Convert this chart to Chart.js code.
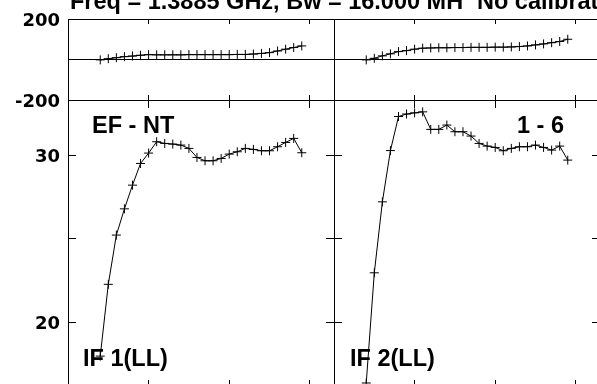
<!DOCTYPE html>
<html>
<head>
<meta charset="utf-8">
<script src="https://cdn.jsdelivr.net/npm/chart.js@4.4.1/dist/chart.umd.min.js"></script>
<style>
  html, body { margin: 0; padding: 0; background: #fff; }
  #page { position: relative; width: 597px; height: 384px; overflow: hidden; background: #fff; }
  #page canvas { position: absolute; left: 0; top: 0; }
  .lbl { position: absolute; font: bold 23.5px "Liberation Sans", Arial, sans-serif; line-height: 23px; color: #000; white-space: nowrap; }
</style>
</head>
<body>
<div id="page">
  <canvas id="phase-if1" width="610" height="400"></canvas>
  <canvas id="phase-if2" width="610" height="400"></canvas>
  <canvas id="amp-if1" width="610" height="400"></canvas>
  <canvas id="amp-if2" width="610" height="400"></canvas>

  <div class="lbl" style="left:70px; top:-10px">Freq = 1.3885 GHz, Bw = 16.000 MH</div>
  <div class="lbl" style="left:477px; top:-10px">No calibration applied</div>
  <div class="lbl" style="left:92px; top:114px">EF - NT</div>
  <div class="lbl" style="left:517px; top:114px">1 - 6</div>
  <div class="lbl" style="left:83px; top:347px">IF 1(LL)</div>
  <div class="lbl" style="left:350px; top:347px">IF 2(LL)</div>
</div>

<script>
// channel numbers (x) shared by all four panels
const channels = [4, 5, 6, 7, 8, 9, 10, 11, 12, 13, 14, 15, 16, 17, 18, 19, 20, 21, 22, 23, 24, 25, 26, 27, 28, 29];

// phase in degrees
const phaseIF1 = [-2, 4, 9, 14, 17, 21, 24, 23, 23, 23, 23, 24, 24, 24, 24, 24, 24, 25, 25, 27, 30, 34, 42, 51, 59, 67];
const phaseIF2 = [-2, 6, 18, 28, 39, 44, 51, 56, 57, 58, 58, 59, 59, 60, 60, 60, 61, 61, 62, 64, 67, 72, 77, 83, 89, 100];

// amplitude
const ampIF1 = [17.96, 22.26, 25.21, 26.78, 28.2, 29.5, 30.12, 30.8, 30.7, 30.66, 30.6, 30.4, 29.86, 29.66, 29.66, 29.8, 30.06, 30.2, 30.4, 30.34, 30.26, 30.26, 30.5, 30.76, 31.0, 30.14];
const ampIF2 = [16.35, 22.95, 27.2, 30.27, 32.31, 32.46, 32.53, 32.59, 31.54, 31.54, 31.8, 31.4, 31.4, 31.14, 30.7, 30.54, 30.46, 30.26, 30.4, 30.5, 30.5, 30.6, 30.46, 30.3, 30.54, 29.7];

// which tick values get a label
const phaseTickLabels = ['-200', '200'];
const ampTickLabels = ['20', '30'];

const chanRange = { min: 0, max: 33, step: 10 };
const phaseRange = { min: -200, max: 200, step: 200 };
const ampRange = { min: 16.05, max: 33.3, step: 5 };

// panel boxes on the 610x400 canvases (page is clipped to 597x384)
const CANVAS_W = 610, CANVAS_H = 400;
const columns = [{ left: 68, right: 334, labels: true }, { left: 334, right: 600, labels: false }];
const rows = {
  phase: { top: 19, bottom: 100, tick: 5 },
  amp: { top: 100, bottom: 388, tick: 8 }
};

// force the axis size and drop the label overhang so the plot box stays put
function sizeTo(size) {
  return scale => {
    if (scale.isHorizontal()) scale.height = size;
    else scale.width = size;
    scale.paddingTop = 0;
    scale.paddingBottom = 0;
    scale.paddingLeft = 0;
    scale.paddingRight = 0;
  };
}

// AIPS style: tick marks point into the box, no grid
function axis(position, range, tickLen, extra) {
  extra = extra || {};
  return {
    type: 'linear',
    position: position,
    min: range.min,
    max: range.max,
    grid: {
      drawOnChartArea: !!extra.zeroLine,
      color: c => (extra.zeroLine && c.tick && c.tick.value === 0) ? '#000' : 'rgba(0,0,0,0)',
      tickColor: '#000',
      tickLength: -tickLen,
      lineWidth: 1
    },
    border: { display: true, color: '#000', width: 1 },
    ticks: {
      display: !!extra.labels,
      stepSize: range.step,
      includeBounds: false,
      color: '#000',
      padding: 8 + tickLen,
      labelOffset: 2.5,
      font: { family: 'DejaVu Sans', weight: 'bold', size: 18 },
      callback: v => (extra.labels && extra.labels.includes(String(v))) ? String(v) : ''
    },
    afterFit: sizeTo(extra.width || 0)
  };
}

function makePanel(id, col, row, range, values, tickLabels, zeroLine) {
  const yWidth = col.labels ? col.left : 0;
  new Chart(document.getElementById(id), {
    type: 'line',
    data: {
      datasets: [{
        data: channels.map((c, i) => ({ x: c, y: values[i] })),
        borderColor: '#000',
        borderWidth: 1,
        tension: 0,
        fill: false,
        pointStyle: 'cross',
        pointRadius: 4.5,
        pointBorderColor: '#000',
        pointBorderWidth: 1
      }]
    },
    options: {
      responsive: false,
      animation: false,
      events: [],
      layout: {
        autoPadding: false,
        padding: {
          left: col.left - yWidth,
          right: CANVAS_W - col.right,
          top: row.top,
          bottom: CANVAS_H - row.bottom
        }
      },
      plugins: { legend: { display: false }, tooltip: { enabled: false } },
      scales: {
        x: axis('bottom', chanRange, row.tick),
        xTop: axis('top', chanRange, row.tick),
        y: axis('left', range, row.tick, {
          labels: col.labels ? tickLabels : null,
          width: yWidth,
          zeroLine: zeroLine
        }),
        yRight: axis('right', range, row.tick)
      }
    }
  });
}

makePanel('phase-if1', columns[0], rows.phase, phaseRange, phaseIF1, phaseTickLabels, true);
makePanel('phase-if2', columns[1], rows.phase, phaseRange, phaseIF2, phaseTickLabels, true);
makePanel('amp-if1', columns[0], rows.amp, ampRange, ampIF1, ampTickLabels, false);
makePanel('amp-if2', columns[1], rows.amp, ampRange, ampIF2, ampTickLabels, false);
</script>
</body>
</html>
